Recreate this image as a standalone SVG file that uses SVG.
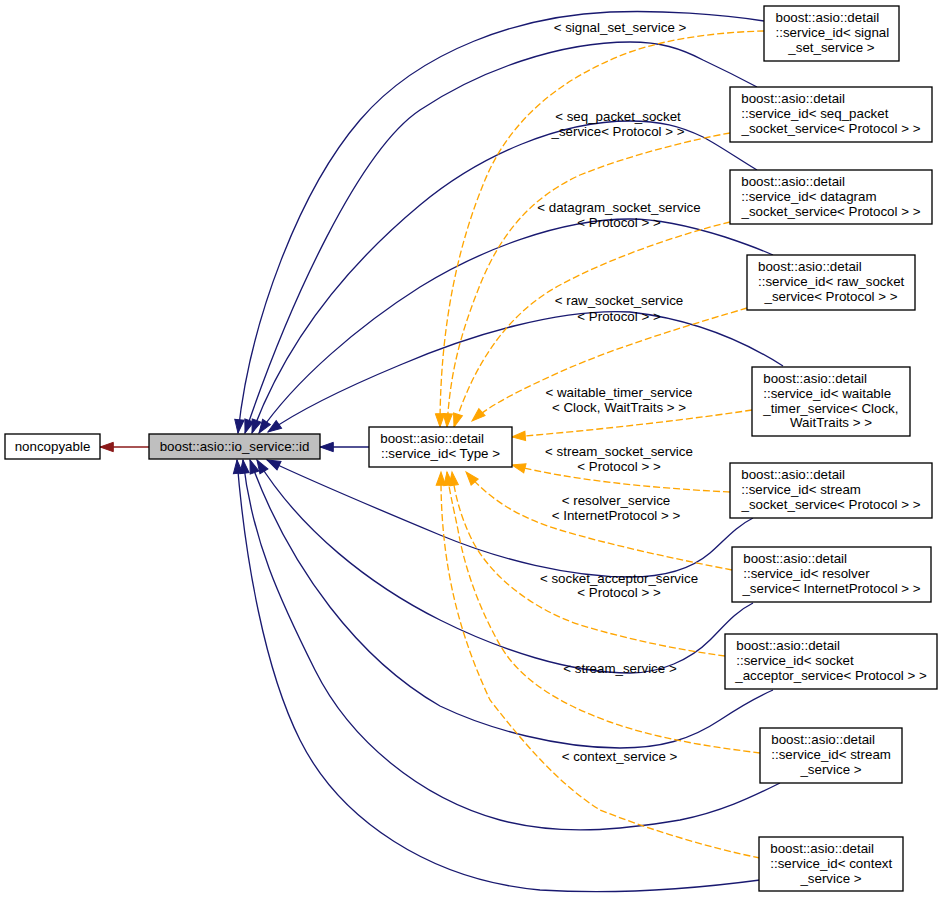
<svg xmlns="http://www.w3.org/2000/svg" width="943" height="900" viewBox="0 0 943 900">
<style>
text{font-family:"Liberation Sans",Arial,sans-serif;font-size:13.33px;fill:#000}
.c{text-anchor:middle}
.box{fill:#fff;stroke:#000;stroke-width:1.33}
.blue{fill:none;stroke:#191970;stroke-width:1.33;marker-end:url(#ab)}
.org{fill:none;stroke:#ffa500;stroke-width:1.33;stroke-dasharray:7,3;marker-end:url(#ao)}
.red{fill:none;stroke:#8b1a1a;stroke-width:1.33;marker-end:url(#ar)}
</style>
<defs>
<marker id="ab" markerUnits="userSpaceOnUse" markerWidth="14" markerHeight="10" refX="13.3" refY="4.67" orient="auto" overflow="visible"><path d="M0,0 L13.3,4.67 L0,9.33 z" fill="#191970" stroke="#191970" stroke-width="1"/></marker>
<marker id="ao" markerUnits="userSpaceOnUse" markerWidth="14" markerHeight="10" refX="13.3" refY="4.67" orient="auto" overflow="visible"><path d="M0,0 L13.3,4.67 L0,9.33 z" fill="#ffa500" stroke="#ffa500" stroke-width="1"/></marker>
<marker id="ar" markerUnits="userSpaceOnUse" markerWidth="14" markerHeight="10" refX="13.3" refY="4.67" orient="auto" overflow="visible"><path d="M0,0 L13.3,4.67 L0,9.33 z" fill="#8b1a1a" stroke="#8b1a1a" stroke-width="1"/></marker>
</defs>
<rect width="943" height="900" fill="#fff"/>
<g id="edges">
<path class="red" d="M149,447 L100,447"/>
<path class="blue" d="M369,447 L320,447"/>
<path class="blue" d="M764,21 C720,14 660,10 610,12 C520,16 420,50 360,120 C300,190 250,320 238,433"/>
<path class="blue" d="M757,87 C740,78 720,68 703,60 C680,48 660,42 630,42 C560,42 480,70 420,110 C360,150 290,300 245,433"/>
<path class="blue" d="M757,170 C740,160 720,146 703,137 C680,126 660,121 630,121 C560,121 480,155 420,205 C360,255 290,330 252,433"/>
<path class="blue" d="M773,255 C755,247 740,242 725,237 C690,226 660,219 630,219 C560,219 480,250 420,287 C360,325 295,380 259,433"/>
<path class="blue" d="M783,366 C750,345 700,320 630,312 C560,308 470,335 400,365 C340,390 295,413 268,432"/>
<path class="blue" d="M753,518 C735,527 725,540 710,553 C690,570 660,577 630,577 C570,577 500,560 440,535 C380,510 320,485 267,460"/>
<path class="blue" d="M753,603 C735,612 725,625 710,640 C690,660 660,673 630,673 C570,673 500,650 440,620 C370,585 300,530 257,460"/>
<path class="blue" d="M773,690 C750,700 735,710 720,720 C690,740 660,748 620,748 C560,748 490,730 440,706 C360,660 290,570 250,460"/>
<path class="blue" d="M780,783 C750,798 720,812 680,820 C620,830 560,836 500,820 C420,798 350,740 315,670 C280,600 252,540 243,460"/>
<path class="blue" d="M760,880 C700,888 620,895 540,890 C430,880 340,820 300,740 C265,670 245,560 237,460"/>
<path class="org" d="M764,31 C720,32 670,38 630,52 C560,78 510,120 485,180 C460,240 440,320 440,427"/>
<path class="org" d="M730,133 C690,140 630,155 580,175 C530,198 500,235 480,285 C462,330 450,370 447,427"/>
<path class="org" d="M730,222 C680,234 610,258 560,285 C510,312 475,360 454,427"/>
<path class="org" d="M747,308 C700,322 620,345 560,372 C520,390 490,405 472,421"/>
<path class="org" d="M752,410 C700,418 600,430 512,437"/>
<path class="org" d="M730,492 C650,488 570,480 512,465"/>
<path class="org" d="M732,570 C680,560 610,545 560,530 C520,518 490,500 466,472"/>
<path class="org" d="M725,656 C680,650 630,640 580,625 C530,608 490,575 472,540 C460,515 455,495 452,472"/>
<path class="org" d="M760,753 C720,748 660,740 610,722 C560,704 520,680 500,645 C480,610 465,570 458,530 C453,505 449,490 447,472"/>
<path class="org" d="M760,858 C710,848 650,830 600,810 C560,785 525,745 490,700 C462,640 440,570 441,472"/>
<text class="c" x="620" y="32.2">&lt; signal_set_service &gt;</text>
<text class="c" x="618" y="121.2">&lt; seq_packet_socket</text>
<text class="c" x="618" y="136.2">_service&lt; Protocol &gt; &gt;</text>
<text class="c" x="619" y="212.2">&lt; datagram_socket_service</text>
<text class="c" x="619" y="227.2">&lt; Protocol &gt; &gt;</text>
<text class="c" x="619" y="305.2">&lt; raw_socket_service</text>
<text class="c" x="619" y="320.5">&lt; Protocol &gt; &gt;</text>
<text class="c" x="619" y="397.2">&lt; waitable_timer_service</text>
<text class="c" x="619" y="411.8">&lt; Clock, WaitTraits &gt; &gt;</text>
<text class="c" x="619" y="456.2">&lt; stream_socket_service</text>
<text class="c" x="619" y="471.2">&lt; Protocol &gt; &gt;</text>
<text class="c" x="616" y="505.2">&lt; resolver_service</text>
<text class="c" x="616" y="520.2">&lt; InternetProtocol &gt; &gt;</text>
<text class="c" x="619" y="582.8">&lt; socket_acceptor_service</text>
<text class="c" x="619" y="597.2">&lt; Protocol &gt; &gt;</text>
<text class="c" x="620" y="672.8">&lt; stream_service &gt;</text>
<text class="c" x="619.5" y="761.2">&lt; context_service &gt;</text>
</g>
<g id="noncopyable"><rect class="box" x="5" y="434" width="95" height="25"/><text class="c" x="52.5" y="450.5">noncopyable</text></g>
<g id="io_service_id"><rect class="box" x="149" y="434" width="171" height="25" style="fill:#bfbfbf"/><text class="c" x="234.5" y="450.5">boost::asio::io_service::id</text></g>
<g id="service_id_type"><rect class="box" x="369" y="427" width="143" height="40"/><text x="380.3" y="443.3">boost::asio::detail</text><text class="c" x="440.5" y="457.9">::service_id&lt; Type &gt;</text></g>
<g id="signal_set"><rect class="box" x="764" y="6" width="135" height="55"/><text x="775.5" y="22.3">boost::asio::detail</text><text x="775.5" y="36.9">::service_id&lt; signal</text><text class="c" x="831.5" y="51.5">_set_service &gt;</text></g>
<g id="seq_packet"><rect class="box" x="730" y="87" width="202" height="55"/><text x="741.3" y="103.3">boost::asio::detail</text><text x="741.3" y="117.9">::service_id&lt; seq_packet</text><text class="c" x="831" y="132.5">_socket_service&lt; Protocol &gt; &gt;</text></g>
<g id="datagram"><rect class="box" x="730" y="170" width="202" height="54"/><text x="741.3" y="186.3">boost::asio::detail</text><text x="741.3" y="200.9">::service_id&lt; datagram</text><text class="c" x="831" y="215.5">_socket_service&lt; Protocol &gt; &gt;</text></g>
<g id="raw_socket"><rect class="box" x="747" y="255" width="168" height="55"/><text x="758" y="271.3">boost::asio::detail</text><text x="758" y="285.9">::service_id&lt; raw_socket</text><text class="c" x="831" y="300.5">_service&lt; Protocol &gt; &gt;</text></g>
<g id="waitable_timer"><rect class="box" x="752" y="367" width="158" height="69"/><text x="763.3" y="383.3">boost::asio::detail</text><text x="763.3" y="397.9">::service_id&lt; waitable</text><text x="763.3" y="412.5">_timer_service&lt; Clock,</text><text class="c" x="831" y="427.1">WaitTraits &gt; &gt;</text></g>
<g id="stream_socket"><rect class="box" x="730" y="463" width="202" height="55"/><text x="741.3" y="479.3">boost::asio::detail</text><text x="741.3" y="493.9">::service_id&lt; stream</text><text class="c" x="831" y="508.5">_socket_service&lt; Protocol &gt; &gt;</text></g>
<g id="resolver"><rect class="box" x="732" y="547" width="199" height="55"/><text x="743.3" y="563.3">boost::asio::detail</text><text x="743.3" y="577.9">::service_id&lt; resolver</text><text class="c" x="831.5" y="592.5">_service&lt; InternetProtocol &gt; &gt;</text></g>
<g id="socket_acceptor"><rect class="box" x="725" y="634" width="212" height="55"/><text x="736.3" y="650.3">boost::asio::detail</text><text x="736.3" y="664.9">::service_id&lt; socket</text><text class="c" x="831" y="679.5">_acceptor_service&lt; Protocol &gt; &gt;</text></g>
<g id="stream_service"><rect class="box" x="760" y="728" width="142" height="55"/><text x="771.3" y="744.3">boost::asio::detail</text><text x="771.3" y="758.9">::service_id&lt; stream</text><text class="c" x="831" y="773.5">_service &gt;</text></g>
<g id="context_service"><rect class="box" x="759" y="837" width="144" height="54"/><text x="770.3" y="853.3">boost::asio::detail</text><text x="770.3" y="867.9">::service_id&lt; context</text><text class="c" x="831" y="882.5">_service &gt;</text></g>
</svg>
